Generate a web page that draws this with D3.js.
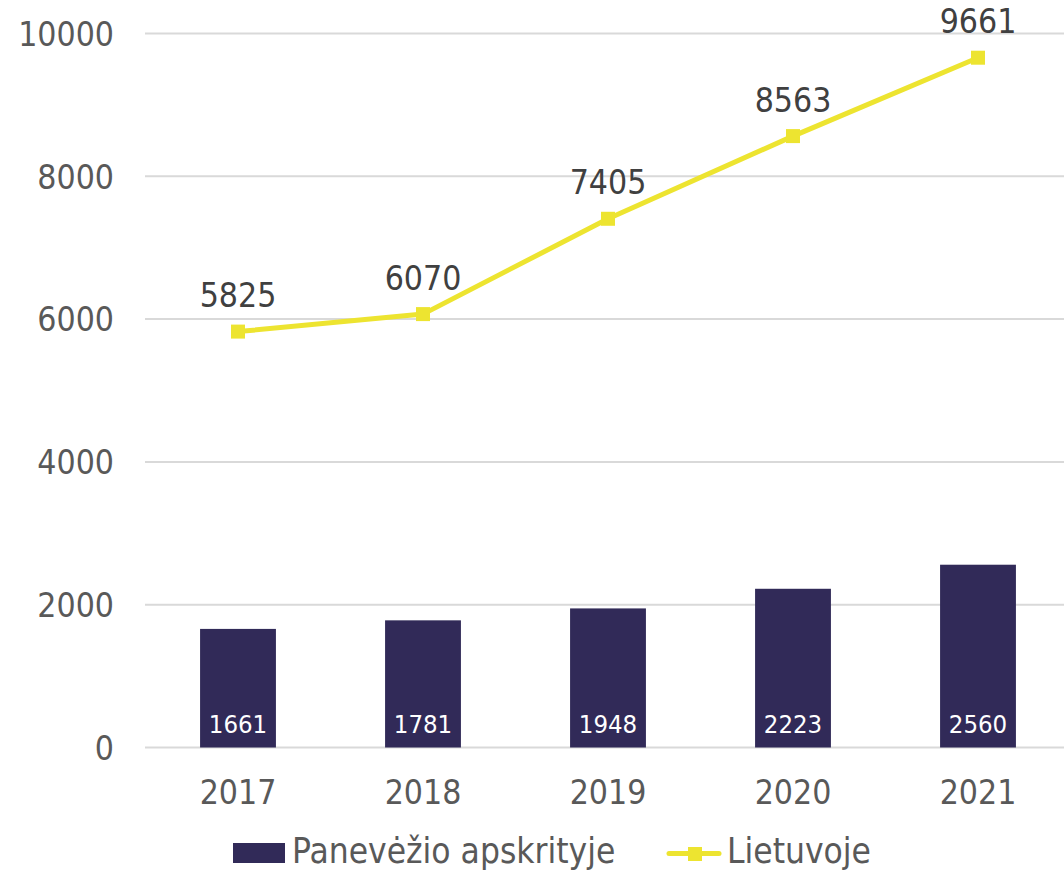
<!DOCTYPE html>
<html>
<head>
<meta charset="utf-8">
<script src="https://cdn.jsdelivr.net/npm/d3@7"></script>
<style>
  body { margin: 0; background: #fff; }
  svg { display: block; font-family: 'DejaVu Sans Condensed', 'DejaVu Sans', sans-serif; font-stretch: condensed; }
</style>
</head>
<body>
<svg width="1064" height="870"></svg>
<script>
const years = ['2017', '2018', '2019', '2020', '2021'];
const regionValues = [1661, 1781, 1948, 2223, 2560];
const countryValues = [5825, 6070, 7405, 8563, 9661];
const yTicks = [0, 2000, 4000, 6000, 8000, 10000];
const seriesNames = ['Panevėžio apskrityje', 'Lietuvoje'];

const barColor = '#312a58';
const lineColor = '#ede430';

const svg = d3.select('svg');

const x = d3.scaleBand()
  .domain(years)
  .range([145.5, 1070.5])
  .paddingInner(0.59)
  .paddingOuter(0.295);

const y = d3.scaleLinear()
  .domain([0, 10000])
  .range([747.5, 33.5]);

// gridlines
svg.append('g')
  .selectAll('line')
  .data(yTicks)
  .join('line')
  .attr('x1', 145)
  .attr('x2', 1064)
  .attr('y1', d => y(d))
  .attr('y2', d => y(d))
  .attr('stroke', '#d9d9d9')
  .attr('stroke-width', 2);

// y tick labels
svg.append('g')
  .selectAll('text')
  .data(yTicks)
  .join('text')
  .attr('x', 114)
  .attr('y', d => y(d))
  .attr('dy', '0.37em')
  .attr('text-anchor', 'end')
  .attr('fill', '#595959')
  .style('font-size', '33.5px')
  .text(d => d);

// x labels
svg.append('g')
  .selectAll('text')
  .data(years)
  .join('text')
  .attr('x', d => x(d) + x.bandwidth() / 2)
  .attr('y', 804)
  .attr('text-anchor', 'middle')
  .attr('fill', '#595959')
  .style('font-size', '33.5px')
  .text(d => d);

// bars
const barData = years.map((yr, i) => ({ year: yr, value: regionValues[i] }));

svg.append('g')
  .selectAll('rect')
  .data(barData)
  .join('rect')
  .attr('x', d => x(d.year))
  .attr('width', x.bandwidth())
  .attr('y', d => y(d.value))
  .attr('height', d => y(0) - y(d.value))
  .attr('fill', barColor);

svg.append('g')
  .selectAll('text')
  .data(barData)
  .join('text')
  .attr('x', d => x(d.year) + x.bandwidth() / 2)
  .attr('y', 733)
  .attr('text-anchor', 'middle')
  .attr('fill', '#fff')
  .style('font-size', '25.5px')
  .text(d => d.value);

// line
const lineData = years.map((yr, i) => ({ year: yr, value: countryValues[i] }));
const cx = d => x(d.year) + x.bandwidth() / 2;

svg.append('path')
  .datum(lineData)
  .attr('fill', 'none')
  .attr('stroke', lineColor)
  .attr('stroke-width', 5)
  .attr('stroke-linejoin', 'round')
  .attr('d', d3.line().x(cx).y(d => y(d.value)));

svg.append('g')
  .selectAll('rect')
  .data(lineData)
  .join('rect')
  .attr('x', d => cx(d) - 7)
  .attr('y', d => y(d.value) - 7)
  .attr('width', 14)
  .attr('height', 14)
  .attr('fill', lineColor);

svg.append('g')
  .selectAll('text')
  .data(lineData)
  .join('text')
  .attr('x', cx)
  .attr('y', d => y(d.value) - 24.5)
  .attr('text-anchor', 'middle')
  .attr('fill', '#404040')
  .style('font-size', '33.5px')
  .text(d => d.value);

// legend
const legend = svg.append('g');

legend.append('rect')
  .attr('x', 233)
  .attr('y', 843)
  .attr('width', 52)
  .attr('height', 20)
  .attr('fill', barColor);

legend.append('text')
  .attr('x', 292)
  .attr('y', 863)
  .attr('fill', '#595959')
  .style('font-size', '35px')
  .text(seriesNames[0]);

legend.append('line')
  .attr('x1', 669)
  .attr('x2', 719)
  .attr('y1', 853.5)
  .attr('y2', 853.5)
  .attr('stroke', lineColor)
  .attr('stroke-width', 5)
  .attr('stroke-linecap', 'round');

legend.append('rect')
  .attr('x', 688)
  .attr('y', 847)
  .attr('width', 14)
  .attr('height', 14)
  .attr('fill', lineColor);

legend.append('text')
  .attr('x', 727)
  .attr('y', 863)
  .attr('fill', '#595959')
  .style('font-size', '35px')
  .text(seriesNames[1]);
</script>
</body>
</html>
